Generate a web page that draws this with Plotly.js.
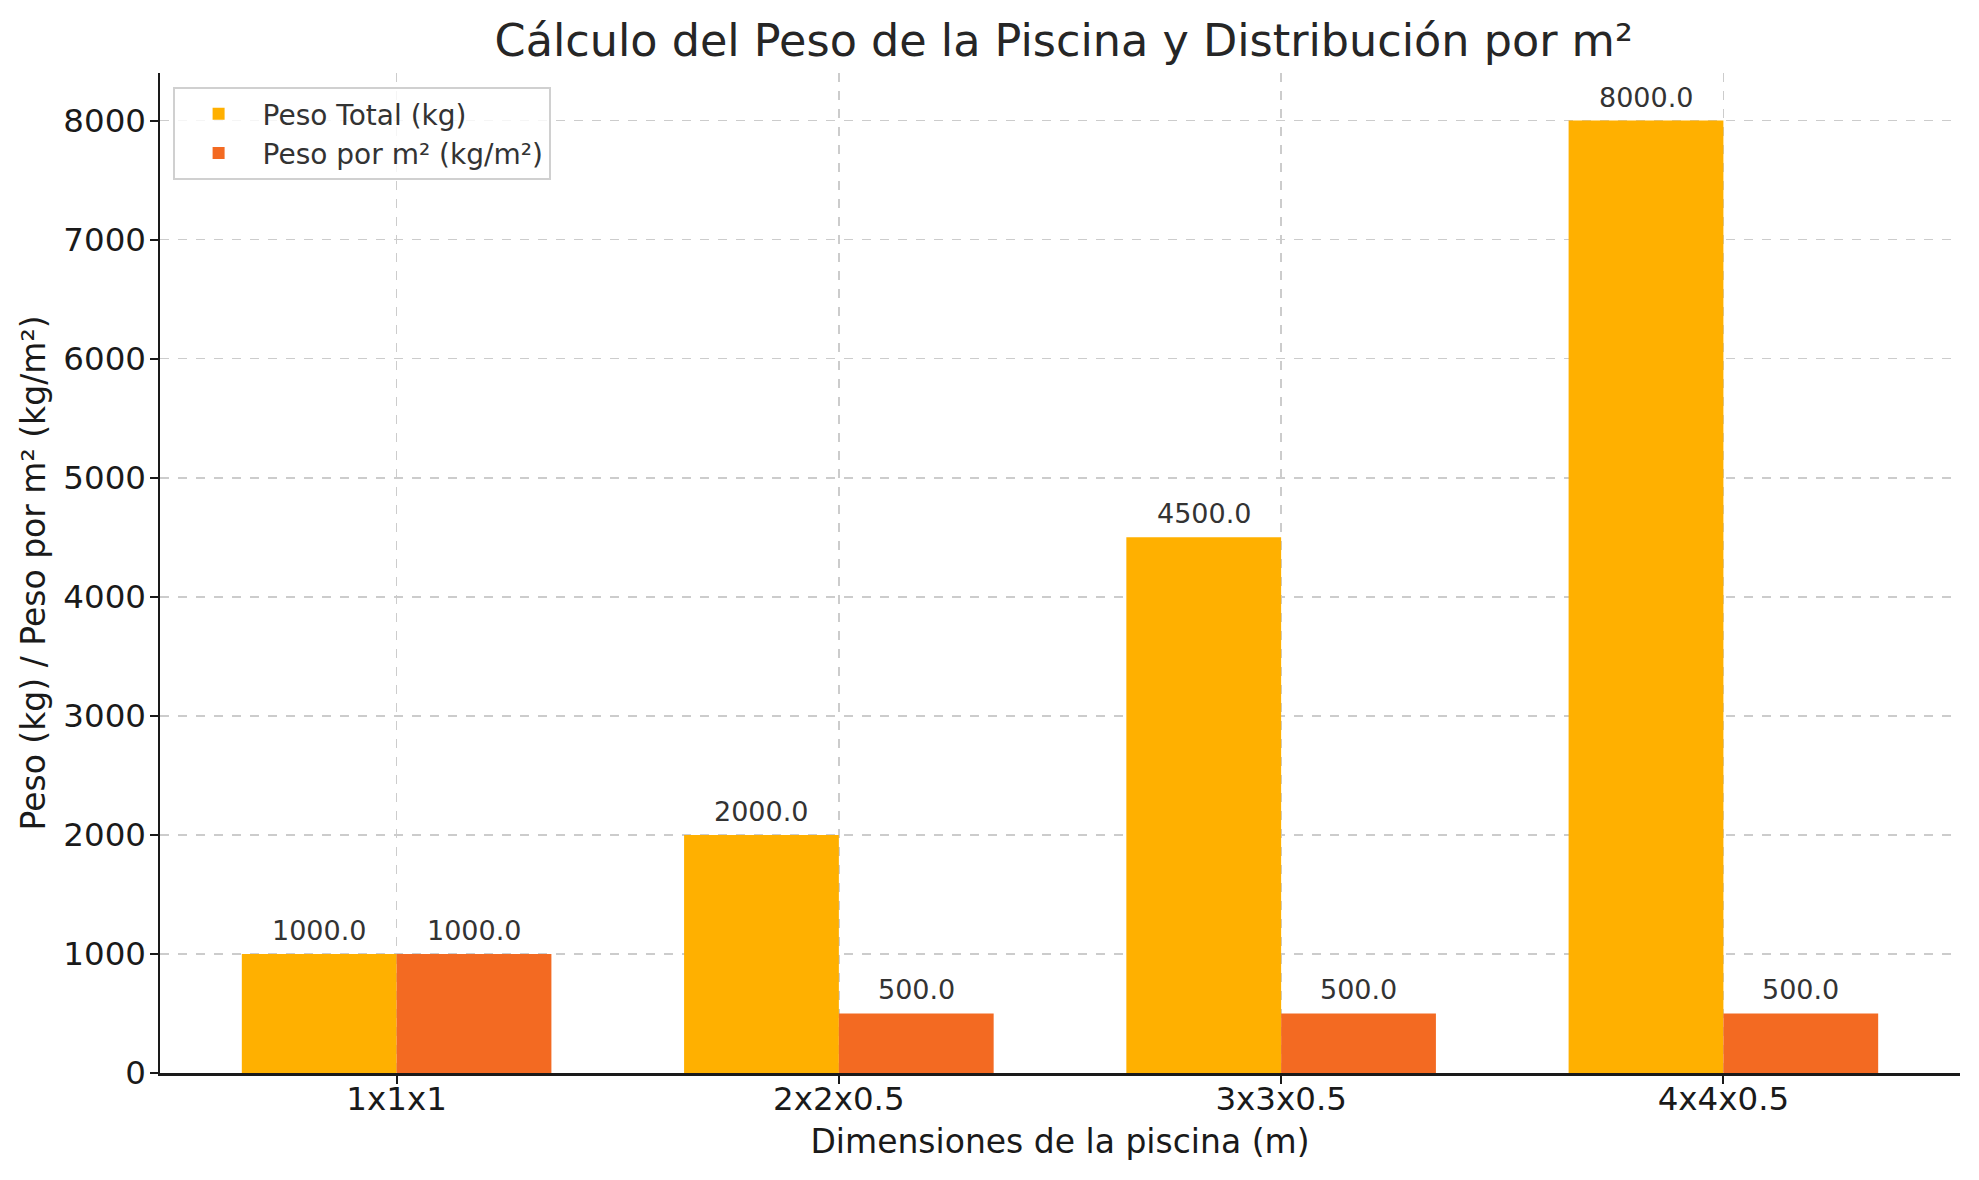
<!DOCTYPE html>
<html>
<head>
<meta charset="utf-8">
<script src="https://cdn.plot.ly/plotly-3.0.1.min.js"></script>
<style>html,body{margin:0;padding:0;background:#fff;}#chart{width:1979px;height:1180px;}</style>
</head>
<body>
<div id="chart"></div>
<script>
const categories = ["1x1x1", "2x2x0.5", "3x3x0.5", "4x4x0.5"];
const pesoTotal = [1000, 2000, 4500, 8000];
const pesoPorM2 = [1000, 500, 500, 500];
const seriesNames = ["Peso Total (kg)", "Peso por m² (kg/m²)"];
const yTicks = [0, 1000, 2000, 3000, 4000, 5000, 6000, 7000, 8000];

const font = "DejaVu Sans, sans-serif";
const fmt = v => v.toFixed(1);
const half = 0.175; // half of a bar's width in category units

const traces = [
  {type: "bar", name: seriesNames[0], x: categories, y: pesoTotal, marker: {color: "#FFB000"}},
  {type: "bar", name: seriesNames[1], x: categories, y: pesoPorM2, marker: {color: "#F36A22"}}
];

const annotations = [];
[[pesoTotal, -half], [pesoPorM2, half]].forEach(([vals, off]) => {
  vals.forEach((v, i) => {
    annotations.push({
      x: i + off, y: v, xref: "x", yref: "y",
      text: fmt(v), showarrow: false, xanchor: "center", yanchor: "bottom", yshift: 6,
      font: {family: font, size: 27, color: "#333333"}
    });
  });
});

const layout = {
  width: 1979, height: 1180,
  paper_bgcolor: "#ffffff", plot_bgcolor: "#ffffff",
  margin: {l: 160, r: 19, t: 73, b: 107, pad: 0},
  barmode: "group", bargap: 0.3, bargroupgap: 0,
  font: {family: font, color: "#262626"},
  title: {
    text: "Cálculo del Peso de la Piscina y Distribución por m²",
    font: {family: font, size: 44.5, color: "#262626"},
    x: 0.5375, xanchor: "center", y: 0.966, yanchor: "middle"
  },
  xaxis: {
    type: "category", range: [-0.535, 3.535],
    showline: true, linecolor: "#1a1a1a", linewidth: 2.5, mirror: false,
    ticks: "outside", ticklen: 8, tickwidth: 2, tickcolor: "#1a1a1a",
    tickfont: {family: font, size: 32.5, color: "#1a1a1a"},
    ticklabelstandoff: -13,
    showgrid: true, gridcolor: "#cccccc", gridwidth: 1.5, griddash: "dash",
    zeroline: false,
    title: {text: "Dimensiones de la piscina (m)", font: {family: font, size: 33, color: "#1a1a1a"}, standoff: 14}
  },
  yaxis: {
    range: [0, 8400], tickvals: yTicks, ticktext: yTicks.map(String),
    showline: true, linecolor: "#1a1a1a", linewidth: 2.5,
    ticks: "outside", ticklen: 8, tickwidth: 2, tickcolor: "#1a1a1a",
    tickfont: {family: font, size: 32.5, color: "#1a1a1a"},
    ticklabelstandoff: -3,
    showgrid: true, gridcolor: "#cccccc", gridwidth: 1.5, griddash: "dash",
    zeroline: false,
    title: {text: "Peso (kg) / Peso por m² (kg/m²)", font: {family: font, size: 33, color: "#1a1a1a"}, standoff: 8}
  },
  legend: {
    x: 0.007, y: 0.986, xanchor: "left", yanchor: "top",
    bgcolor: "rgba(255,255,255,0.8)", bordercolor: "#d0d0d0", borderwidth: 2,
    font: {family: font, size: 28, color: "#333333"},
    itemwidth: 78,
    traceorder: "normal"
  },
  annotations: annotations,
  showlegend: true
};

Plotly.newPlot("chart", traces, layout, {displayModeBar: false, staticPlot: true});
</script>
</body>
</html>
